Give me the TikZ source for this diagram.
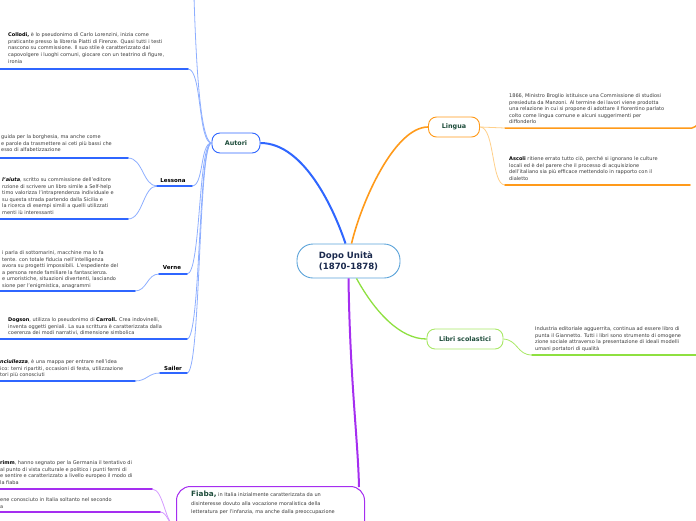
\documentclass[tikz,border=0pt]{standalone}
\usepackage{fontspec}
\setmainfont{DejaVu Sans}
\definecolor{bA}{HTML}{2F66FF}
\definecolor{bL}{HTML}{8DAEFF}
\definecolor{oA}{HTML}{FF9A1A}
\definecolor{oL}{HTML}{FFD08A}
\definecolor{gA}{HTML}{8EE040}
\definecolor{gN}{HTML}{A8E865}
\definecolor{pA}{HTML}{A52EF0}
\definecolor{pL}{HTML}{D49AFF}
\definecolor{cB}{HTML}{5BA3D9}
\definecolor{dkgreen}{HTML}{1E4D3B}
\definecolor{navy}{HTML}{1B2A4E}
\definecolor{txtgray}{HTML}{3A3A3A}
\begin{document}
\begin{tikzpicture}[x=1pt,y=-1pt,
  txt/.style={font=\fontsize{5}{6.6}\selectfont, text=txtgray, align=left, inner sep=0pt, anchor=north west},
  topic/.style={draw, fill=white, rounded corners=8pt, font=\fontsize{6.4}{7}\selectfont\bfseries, text=dkgreen, minimum height=20pt, line width=0.9pt, inner sep=2pt},
  lab/.style={font=\fontsize{5.5}{6}\selectfont\bfseries, text=black, inner sep=0pt},
  uthick/.style={line width=1.5pt, line cap=round},
  thin/.style={line width=0.8pt}
]
\useasboundingbox (0,0) rectangle (696,520);

% ---- main nodes
\node[draw=cB, fill=white, rounded corners=16pt, minimum width=103pt, minimum height=34pt, line width=0.9pt,
      font=\fontsize{8.6}{11}\selectfont\bfseries, text=navy, align=left] (c) at (348.5,261) {Dopo Unità\\(1870-1878)};
\node[topic, draw=bA, minimum width=48pt] (aut) at (236,143) {Autori};
\node[topic, draw=oA, minimum width=51pt] (ling) at (454,127) {Lingua};
\node[topic, draw=gN, minimum width=76pt] (lib) at (465,339) {Libri scolastici};
\node[draw=pA, line width=1pt, fill=white, rounded corners=14pt, minimum width=188pt, minimum height=60pt, anchor=north west, inner sep=0pt] (fiaba) at (176,486) {};
\node[txt, font=\fontsize{5}{8.8}\selectfont] (fiabatxt) at (191,490.5)
 {{\fontsize{7.3}{8.8}\selectfont\bfseries\color{dkgreen}Fiaba,} in Italia inizialmente caratterizzata da un\\
  disinteresse dovuto alla vocazione moralistica della\\
  letteratura per l'infanzia, ma anche dalla preoccupazione};

% ---- center connectors
\draw[bA, line width=2pt] ([xshift=-3pt]c.north) .. controls (335,212) and (305,143) .. (aut.east);
\draw[oA, line width=1.6pt] ([xshift=3pt]c.north) .. controls (362,200) and (395,127) .. (ling.west);
\draw[gA, line width=1.3pt] ([xshift=8pt]c.south) .. controls (375,312) and (400,339) .. (lib.west);
\coordinate (fiabaTop) at (359,487);
\draw[pA, line width=2pt] (c.south) .. controls (350,380) and (358,440) .. (fiabaTop);

% ---- Autori subtree
\coordinate (topE) at (194,-3);
\coordinate (collE) at (188,69);   \coordinate (coll0) at (-2,69);
\coordinate (lesR) at (192,186);   \coordinate (lesL) at (157,186);
\coordinate (les1E) at (128,158);  \coordinate (les10) at (-2,158);
\coordinate (les2E) at (128,219);  \coordinate (les20) at (-2,219);
\coordinate (verR) at (187,274);   \coordinate (verL) at (159,274);
\coordinate (ver1E) at (135,291);  \coordinate (ver10) at (-2,291);
\coordinate (dogE) at (187,339);   \coordinate (dog0) at (-2,339);
\coordinate (saiR) at (187,373);   \coordinate (saiL) at (160,373);
\coordinate (sai1E) at (135,381);  \coordinate (sai10) at (-2,381);

\draw[bL, thin] (aut.west) .. controls (200,141) and (196,60) .. (topE);
\draw[bL, thin] (aut.west) .. controls (198,143) and (202,69) .. (collE);
\draw[bL, thin] (aut.west) .. controls (200,143) and (204,186) .. (lesR);
\draw[bL, thin] (aut.west) .. controls (198,143) and (201,274) .. (verR);
\draw[bL, thin] (aut.west) .. controls (198,143) and (201,339) .. (dogE);
\draw[bL, thin] (aut.west) .. controls (198,143) and (201,373) .. (saiR);

\draw[bL, thin] (lesL) .. controls (143,186) and (143,158) .. (les1E);
\draw[bL, thin] (lesL) .. controls (143,186) and (143,219) .. (les2E);
\draw[bL, thin] (verL) .. controls (147,274) and (147,291) .. (ver1E);
\draw[bL, thin] (saiL) .. controls (148,373) and (147,381) .. (sai1E);

\draw[bA, uthick] (coll0) -- (collE);
\draw[bA, uthick] (lesL) -- (lesR);
\draw[bA, uthick] (les10) -- (les1E);
\draw[bA, uthick] (les20) -- (les2E);
\draw[bA, uthick] (verL) -- (verR);
\draw[bA, uthick] (ver10) -- (ver1E);
\draw[bA, uthick] (dog0) -- (dogE);
\draw[bA, uthick] (saiL) -- (saiR);
\draw[bA, uthick] (sai10) -- (sai1E);

\node[lab] (lesl) at (173,181) {Lessona};
\node[lab] (verl) at (172,268) {Verne};
\node[lab] (sail) at (173,368) {Sailer};

\node[txt] (colltxt) at (8,32.5) {\textbf{\color{black}Collodi,} è lo pseudonimo di Carlo Lorenzini, inizia come\\
praticante presso la libreria Piatti di Firenze. Quasi tutti i testi\\
nascono su commissione. Il suo stile è caratterizzato dal\\
capovolgere i luoghi comuni, giocare con un teatrino di figure,\\
ironia};
\node[txt] (les1txt) at (1,134.5) {guida per la borghesia, ma anche come\\
e parole da trasmettere ai ceti più bassi che\\
esso di alfabetizzazione};
\node[txt] (les2txt) at (2,177.5) {\textbf{\textit{\color{black}l'aiuta}}, scritto su commissione dell'editore\\
nzione di scrivere un libro simile a Self-help\\
timo valorizza l'intraprendenza individuale e\\
 su questa strada partendo dalla Sicilia e\\
la ricerca di esempi simili a quelli utilizzati\\
menti iù interessanti};
\node[txt] (vertxt) at (2,250.5) {i parla di sottomarini, macchine ma lo fa\\
tente. con totale fiducia nell'intelligenza\\
avora su progetti impossibili. L'espediente del\\
a persona rende familiare la fantascienza.\\
e umoristiche, situazioni divertenti, lasciando\\
sione per l'enigmistica, anagrammi};
\node[txt] (dogtxt) at (8,317.5) {\textbf{\color{black}Dogson}, utilizza lo pseudonimo di \textbf{\color{black}Carroll.} Crea indovinelli,\\
inventa oggetti geniali.  La sua scrittura è caratterizzata dalla\\
coerenza dei modi narrativi, dimensione simbolica};
\node[txt] (saitxt) at (0,359.5) {\textbf{\textit{\color{black}nciullezza}}, è una mappa per entrare nell'idea\\
ico: temi ripartiti, occasioni di festa, utilizzazione\\
tori più conosciuti};

% ---- Lingua subtree
\coordinate (l1S) at (505,128);  \coordinate (l1E) at (692,128); \coordinate (l1X) at (700,121);
\coordinate (l2S) at (505,185);  \coordinate (l2E) at (690,185);
\draw[oL, thin] (ling.east) .. controls (492,127) and (493,128) .. (l1S);
\draw[oL, thin] (ling.east) .. controls (495,127) and (491,185) .. (l2S);
\draw[oA, uthick] (l1S) -- (l1E) .. controls (695,128) and (696,126) .. (l1X);
\draw[oA, uthick] (l2S) -- (l2E);
\node[txt] (l1txt) at (509,93.5) {1866, Ministro Broglio istituisce una Commissione di studiosi\\
presieduta da Manzoni. Al termine dei lavori viene prodotta\\
una relazione in cui si propone di adottare il fiorentino parlato\\
colto come lingua comune e alcuni suggerimenti per\\
diffonderlo};
\node[txt] (l2txt) at (509,156.5) {\textbf{\color{black}Ascoli} ritiene errato tutto ciò, perché si ignorano le culture\\
locali ed è del parere che il processo di acquisizione\\
dell'italiano sia più efficace mettendolo in rapporto con il\\
dialetto};

% ---- Libri subtree
\coordinate (libS) at (532,355); \coordinate (libE) at (699,355);
\draw[gN, thin] (lib.east) .. controls (518,340) and (517,355) .. (libS);
\draw[gA, uthick] (libS) -- (libE);
\node[txt] (libtxt) at (535,326.5) {Industria editoriale agguerrita, continua ad essere libro di\\
punta il Giannetto. Tutti i libri sono strumento di omogene\\
zione sociale attraverso la presentazione di ideali modelli\\
umani portatori di qualità};

% ---- Fiaba subtree
\coordinate (fiabaL) at (176,526);
\coordinate (g1E) at (152,489); \coordinate (g10) at (-2,489);
\coordinate (g2E) at (160,512); \coordinate (g20) at (-2,512);
\coordinate (g3E) at (150,540);
\draw[pL, thin] (fiabaL) .. controls (165,526) and (164,489) .. (g1E);
\draw[pL, thin] (fiabaL) .. controls (168,526) and (168,512) .. (g2E);
\draw[pL, thin] (fiabaL) .. controls (168,526) and (160,540) .. (g3E);
\draw[pA, uthick] (g10) -- (g1E);
\draw[pA, uthick] (g20) -- (g2E);
\node[txt] (g1txt) at (0,460.5) {\textbf{\color{black}rimm}, hanno segnato per la Germania il tentativo di\\
al punto di vista culturale e politico i punti fermi di\\
e sentire e caratterizzato a livello europeo il modo di\\
la fiaba};
\node[txt] (g2txt) at (0,497.5) {ene conosciuto in Italia soltanto nel secondo\\
a};
\end{tikzpicture}
\end{document}
